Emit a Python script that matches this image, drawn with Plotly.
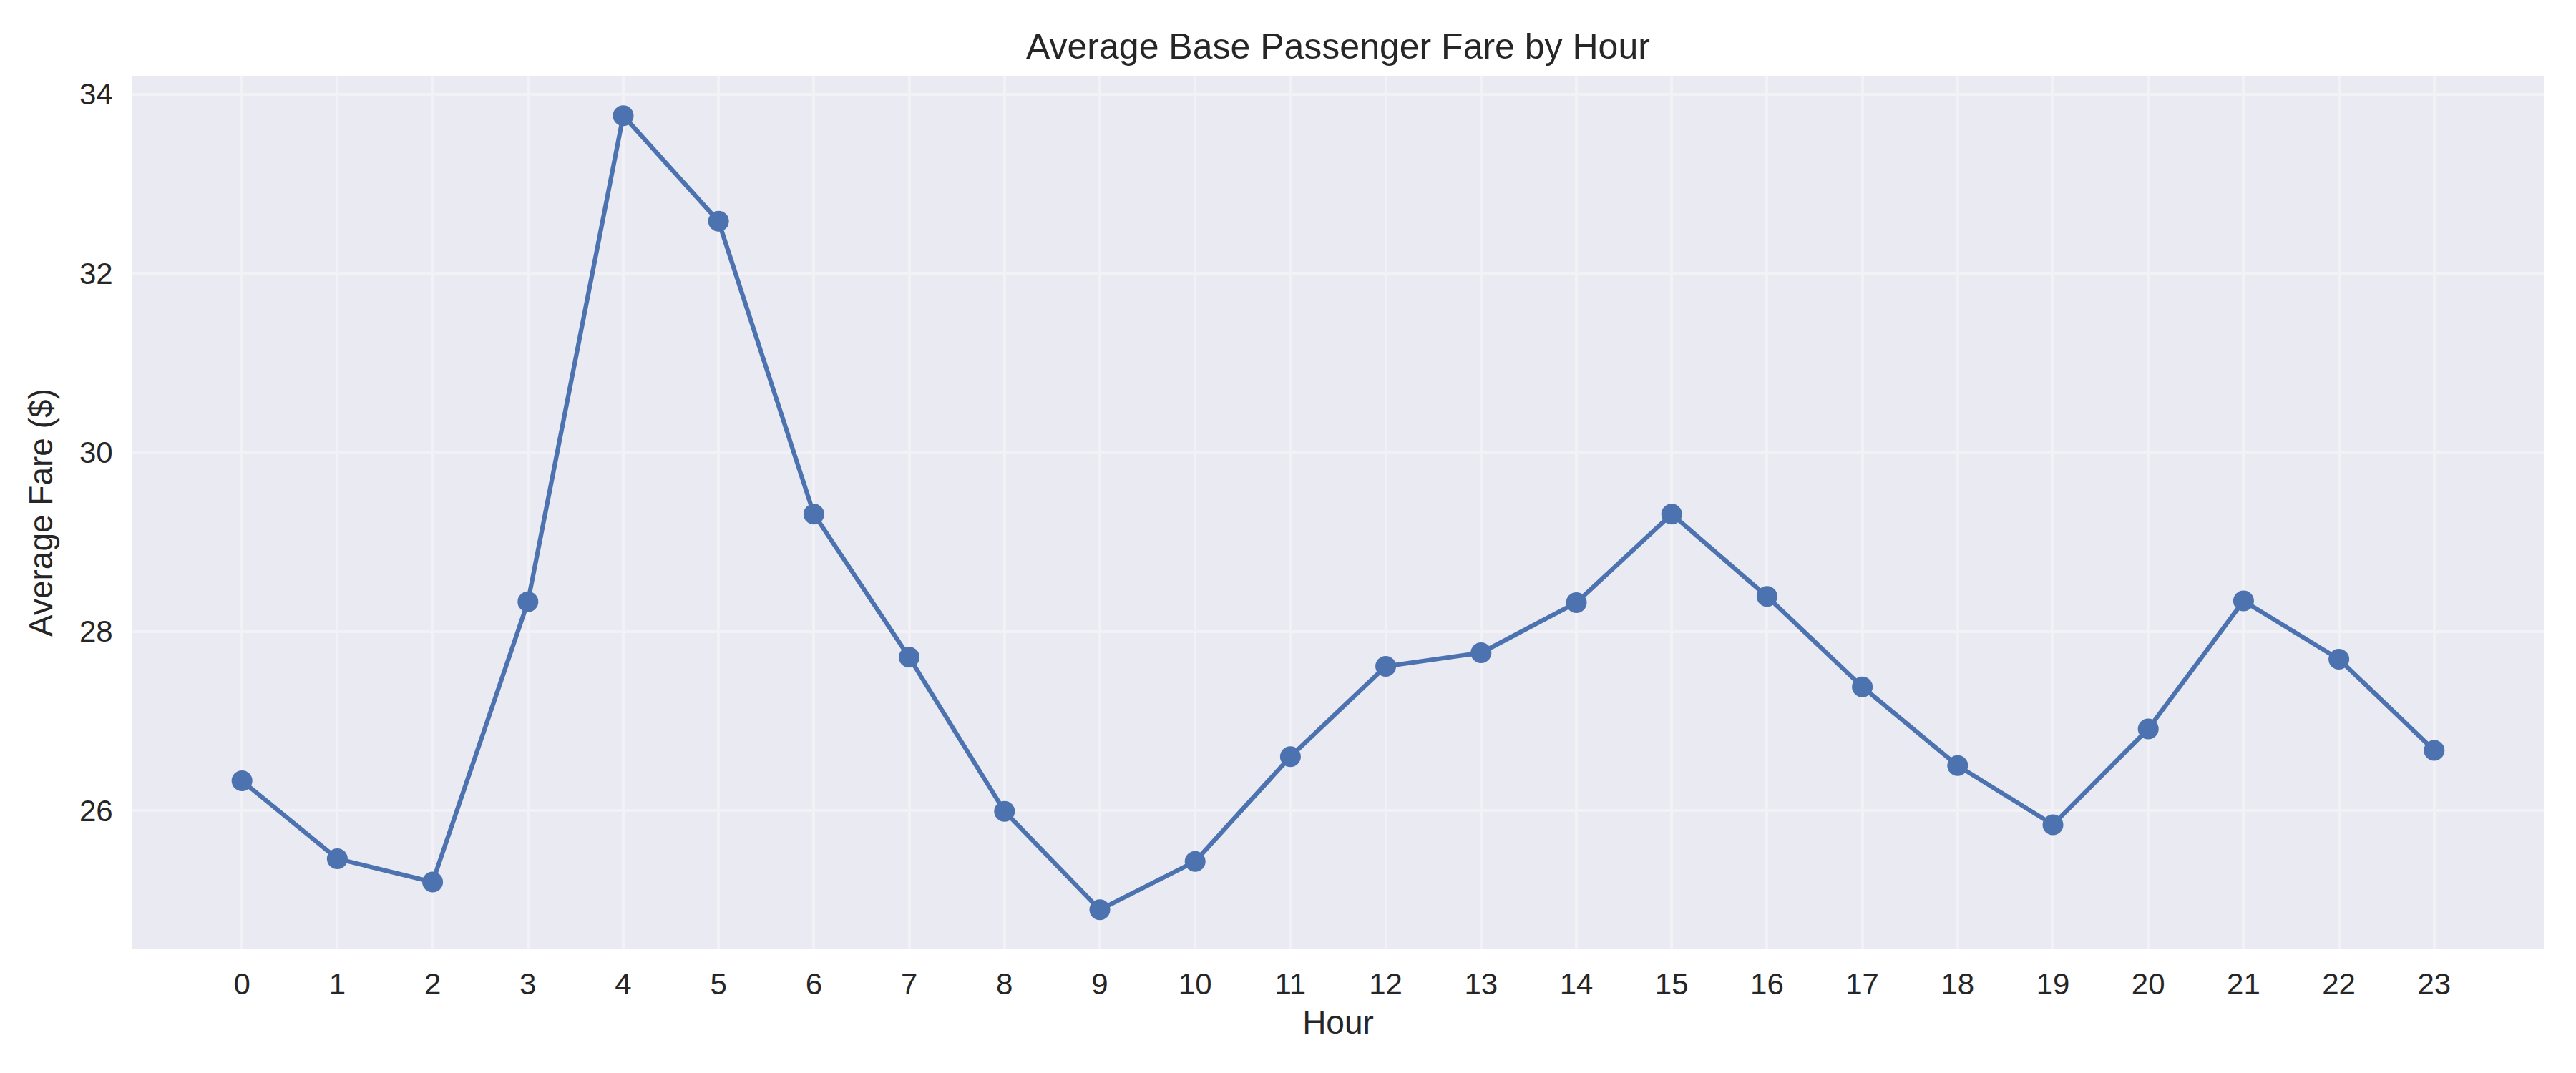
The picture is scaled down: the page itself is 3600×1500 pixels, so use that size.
import plotly.graph_objects as go

hours = list(range(24))
avg_fare = [26.33, 25.46, 25.20, 28.33, 33.76, 32.58, 29.31, 27.71,
            25.99, 24.89, 25.43, 26.60, 27.61, 27.76, 28.32, 29.31,
            28.39, 27.38, 26.50, 25.84, 26.91, 28.34, 27.69, 26.67]
y_ticks = [26, 28, 30, 32, 34]

W, H = 3600, 1500
L, R, T, B = 185, 45, 106, 173
FONT = "Arial, Liberation Sans, sans-serif"
TXT = "#262626"
GRID = "#F2F2F6"

fig = go.Figure()
fig.add_trace(go.Scatter(
    x=hours, y=avg_fare, mode="lines+markers",
    line=dict(color="#4C72B0", width=6.25),
    marker=dict(color="#4C72B0", size=29, line=dict(width=0)),
    showlegend=False,
))

fig.update_layout(
    width=W, height=H,
    margin=dict(l=L, r=R, t=T, b=B, pad=0),
    paper_bgcolor="white",
    plot_bgcolor="#EAEAF2",
    font=dict(family=FONT, color=TXT, size=42),
    title=dict(text="Average Base Passenger Fare by Hour",
               font=dict(size=50, color=TXT, family=FONT),
               x=(L + (W - L - R) / 2) / W, xanchor="center",
               xref="paper" if False else "container",
               yref="container", y=1 - 64 / H, yanchor="middle"),
    xaxis=dict(
        range=[-1.15, 24.15], tickmode="array", tickvals=hours,
        ticktext=[str(h) for h in hours],
        showgrid=True, gridcolor=GRID, gridwidth=4,
        zeroline=False, showline=False,
        ticks="outside", ticklen=12, tickcolor="rgba(0,0,0,0)",
        tickfont=dict(size=42, color=TXT, family=FONT),
        title=dict(text="Hour", font=dict(size=46, color=TXT, family=FONT), standoff=14),
    ),
    yaxis=dict(
        range=[24.449, 34.205], tickmode="array", tickvals=y_ticks,
        ticktext=[str(v) for v in y_ticks],
        showgrid=True, gridcolor=GRID, gridwidth=4,
        zeroline=False, showline=False,
        ticks="outside", ticklen=18, tickcolor="rgba(0,0,0,0)",
        tickfont=dict(size=42, color=TXT, family=FONT),
        title=dict(text="Average Fare ($)", font=dict(size=46, color=TXT, family=FONT), standoff=22),
    ),
)

fig.write_html("out.html")
